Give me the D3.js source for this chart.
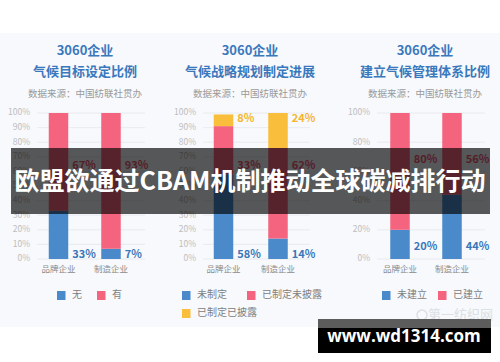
<!DOCTYPE html>
<html>
<head>
<meta charset="utf-8">
<script src="https://cdn.jsdelivr.net/npm/d3@7/dist/d3.min.js"></script>
<style>
  html, body { margin: 0; padding: 0; background: #fff; }
  svg { display: block; font-family: 'Noto Sans CJK SC', 'Noto Sans', sans-serif; }
</style>
</head>
<body>
<svg id="chart" width="500" height="362"></svg>
<script>
// Data
const categories = ['品牌企业', '制造企业'];

const titles1 = ['3060企业', '气候目标设定比例'];
const series1 = ['无', '有'];
const values1 = [[33, 67], [7, 93]];

const titles2 = ['3060企业', '气候战略规划制定进展'];
const series2 = ['未制定', '已制定未披露', '已制定已披露'];
const values2 = [[58, 33, 8], [14, 62, 24]];

const titles3 = ['3060企业', '建立气候管理体系比例'];
const series3 = ['未建立', '已建立'];
const values3 = [[20, 80], [44, 56]];

const ticks1 = [0, 10, 20, 30, 40, 50, 60, 70, 80, 90, 100];
const ticks3 = [0, 20, 40, 60, 80, 100];

const sourceText = '数据来源：中国纺联社贯办';
const bannerText = '欧盟欲通过CBAM机制推动全球碳减排行动';
const siteText = 'www.wd1314.com';
const watermark = '第一纺织网';

const colors = ['#4a8acb', '#f5647f', '#f8be3c'];
const labelColors = ['#3b76b8', '#ee5873', '#f5b52e'];

// Layout per panel
const panels = [
  { titles: titles1, series: series1, values: values1, ticks: ticks1,
    cx: 85, tickRight: 30, grid: [37, 145], bars: [58.5, 111],
    labelAt: [3, 64, 96],
    legend: [[57, 291], [97, 291]] },
  { titles: titles2, series: series2, values: values2, ticks: ticks1,
    cx: 250, tickRight: 196, grid: [203, 310], bars: [223.5, 278],
    labelAt: [3, 64, 96],
    legend: [[182, 291], [247, 291], [182, 309]] },
  { titles: titles3, series: series3, values: values3, ticks: ticks3,
    cx: 425, tickRight: 370, grid: [377, 485], bars: [400, 452],
    labelAt: [8, 68, 96],
    legend: [[382, 291], [438, 291]] }
];

const svg = d3.select('#chart');

svg.append('rect')
  .attr('x', 0).attr('y', 33)
  .attr('width', 500).attr('height', 294)
  .attr('fill', '#f7f9fc');

const y = d3.scaleLinear().domain([0, 100]).range([259, 113]);
const barW = 19.5;

for (const p of panels) {
  const g = svg.append('g');

  // Titles
  g.append('text')
    .attr('x', p.cx).attr('y', 55)
    .attr('text-anchor', 'middle')
    .attr('font-size', '13px').attr('font-weight', 700)
    .attr('fill', '#3a78bd')
    .text(p.titles[0]);
  g.append('text')
    .attr('x', p.cx).attr('y', 76)
    .attr('text-anchor', 'middle')
    .attr('font-size', '13px').attr('font-weight', 700)
    .attr('fill', '#3a78bd')
    .text(p.titles[1]);
  g.append('text')
    .attr('x', p.cx).attr('y', 97)
    .attr('text-anchor', 'middle')
    .attr('font-size', '9.5px')
    .attr('fill', '#9a9a9a')
    .text(sourceText);

  // Gridlines + tick labels
  for (const t of p.ticks) {
    g.append('line')
      .attr('x1', p.grid[0]).attr('x2', p.grid[1])
      .attr('y1', y(t)).attr('y2', y(t))
      .attr('stroke', '#e4e7ec').attr('stroke-width', 0.8);
    g.append('text')
      .attr('x', p.tickRight).attr('y', y(t))
      .attr('text-anchor', 'end')
      .attr('dominant-baseline', 'middle')
      .attr('font-size', '8.5px')
      .attr('fill', '#bdbdbd')
      .text(t + '%');
  }

  const x = d3.scalePoint().domain(categories).range(p.bars);

  // Stacked bars
  const rows = categories.map((c, i) => {
    const r = { cat: c };
    p.series.forEach((s, j) => { r[s] = p.values[i][j]; });
    return r;
  });
  const stack = d3.stack().keys(p.series)(rows);

  stack.forEach((layer, j) => {
    layer.forEach((d, i) => {
      g.append('rect')
        .attr('x', x(categories[i]) - barW / 2)
        .attr('y', y(d[1]))
        .attr('width', barW)
        .attr('height', y(d[0]) - y(d[1]))
        .attr('fill', colors[j]);
      g.append('text')
        .attr('x', x(categories[i]) + barW / 2 + 4)
        .attr('y', y(p.labelAt[j]))
        .attr('dominant-baseline', 'middle')
        .attr('font-size', '11px').attr('font-weight', 700)
        .attr('fill', labelColors[j])
        .text(p.values[i][j] + '%');
    });
  });

  // Category labels
  for (const c of categories) {
    g.append('text')
      .attr('x', x(c)).attr('y', 272)
      .attr('text-anchor', 'middle')
      .attr('font-size', '8.5px')
      .attr('fill', '#8a8a8a')
      .text(c);
  }

  // Legend
  p.series.forEach((s, j) => {
    const [lx, ly] = p.legend[j];
    g.append('rect')
      .attr('x', lx).attr('y', ly)
      .attr('width', 8.5).attr('height', 9)
      .attr('fill', colors[j]);
    g.append('text')
      .attr('x', lx + 15).attr('y', ly + 4.5)
      .attr('dominant-baseline', 'middle')
      .attr('font-size', '10px')
      .attr('fill', '#808080')
      .text(s);
  });
}

// Watermark
svg.append('text')
  .attr('x', 493).attr('y', 319)
  .attr('text-anchor', 'end')
  .attr('font-size', '13px')
  .attr('fill', '#dcdfe4')
  .text(watermark);
svg.append('circle')
  .attr('cx', 422).attr('cy', 315).attr('r', 5)
  .attr('fill', 'none').attr('stroke', '#dcdfe4').attr('stroke-width', 1.5);

// Headline overlay
svg.append('rect')
  .attr('x', 11).attr('y', 148)
  .attr('width', 479).attr('height', 66)
  .attr('fill', '#000').attr('fill-opacity', 0.65);
svg.append('text')
  .attr('x', 250).attr('y', 190)
  .attr('text-anchor', 'middle')
  .attr('font-size', '25px').attr('font-weight', 700)
  .attr('fill', '#fff')
  .text(bannerText);

// Site banner
svg.append('rect')
  .attr('x', 318).attr('y', 319)
  .attr('width', 173).attr('height', 9)
  .attr('fill', '#5c5c5c');
svg.append('rect')
  .attr('x', 318).attr('y', 328)
  .attr('width', 173).attr('height', 25)
  .attr('fill', '#000');
svg.append('text')
  .attr('x', 404).attr('y', 342)
  .attr('text-anchor', 'middle')
  .attr('font-size', '17px').attr('font-weight', 700)
  .attr('font-family', "'Open Sans', 'Noto Sans', sans-serif")
  .attr('fill', '#fff')
  .text(siteText);
</script>
</body>
</html>
